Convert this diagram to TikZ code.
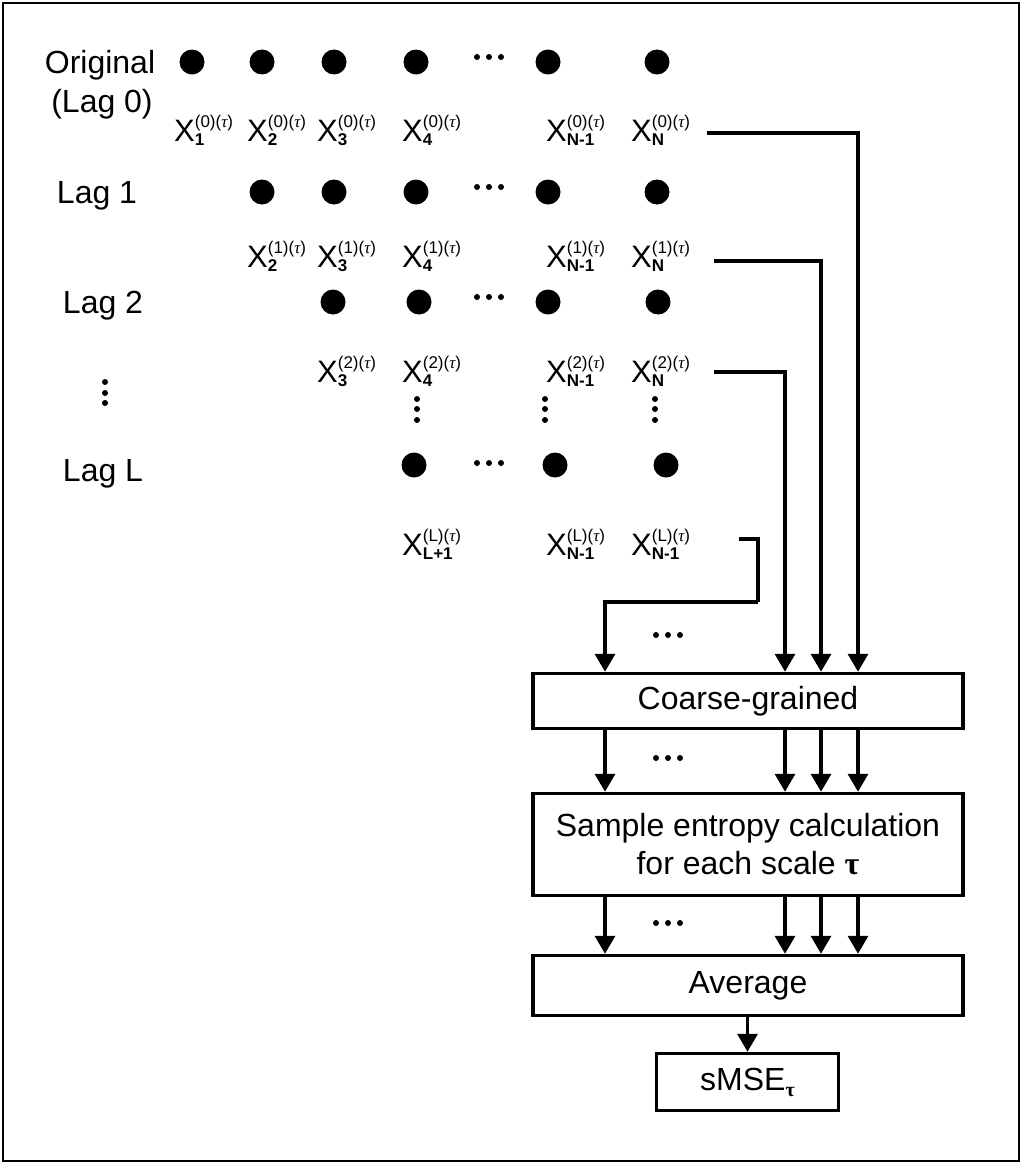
\documentclass[tikz,border=0pt]{standalone}
\usepackage{fontspec}
\setmainfont{Liberation Sans}
\newfontfamily\serifg{Liberation Serif}
\usetikzlibrary{arrows.meta}
\newcommand\xlab[2]{X\rlap{\raisebox{-4pt}{\fontsize{17}{17}\selectfont\bfseries #2}}\raisebox{14pt}{\fontsize{17}{17}\selectfont(#1)({\serifg\itshape τ})}}
\tikzset{
  dotnode/.style={circle, fill=black, minimum size=25pt, inner sep=0pt},
  lab/.style={anchor=base west, inner sep=0pt, font=\fontsize{31}{36}\selectfont},
  lag/.style={anchor=base, inner sep=0pt},
  box/.style={draw, line width=3.5pt, inner sep=0pt, minimum width=430pt, align=center},
  arr/.style={line width=3.5pt, -{Triangle[width=20pt,length=18pt]}},
  conn/.style={line width=3.5pt},
}
\begin{document}
\begin{tikzpicture}[x=1pt,y=-1pt,font=\fontsize{32}{40}\selectfont]
\useasboundingbox (0,0) rectangle (1024,1164);
\draw[line width=2pt] (3,3) rectangle (1019,1161);

% left labels
\node[lag] (orig) at (100,74) {Original};
\node[lag] (lag0) at (102,112) {(Lag 0)};
\node[lag] (lag1) at (97,203) {Lag 1};
\node[lag] (lag2) at (103,313) {Lag 2};
\node[lag] (lagL) at (103,481) {Lag L};
\foreach \y in {382,393,403} \fill (105,\y) circle (3pt);

% rows of dots
\foreach \x [count=\i] in {192,262,334,416,548,657} \node[dotnode] (r0d\i) at (\x,62) {};
\foreach \x [count=\i] in {262,334,416,548,657} \node[dotnode] (r1d\i) at (\x,192) {};
\foreach \x [count=\i] in {333,419,548,658} \node[dotnode] (r2d\i) at (\x,302) {};
\foreach \x [count=\i] in {414,555,666} \node[dotnode] (rLd\i) at (\x,465) {};
% horizontal ellipses
\foreach \yy in {57,187,297,463} {\foreach \dx in {-12,0,12} \fill (489+\dx,\yy) circle (3pt);}
% vertical ellipses
\foreach \xx in {417,545,655} {\foreach \yy in {399,409,420} \fill (\xx,\yy) circle (3pt);}

% labels row 0
\node[lab] (x01) at (174,141) {\xlab{0}{1}};
\node[lab] (x02) at (247,141) {\xlab{0}{2}};
\node[lab] (x03) at (317,141) {\xlab{0}{3}};
\node[lab] (x04) at (402,141) {\xlab{0}{4}};
\node[lab] (x05) at (546,141) {\xlab{0}{N-1}};
\node[lab] (x06) at (631,141) {\xlab{0}{N}};
% row 1
\node[lab] (x12) at (247,267) {\xlab{1}{2}};
\node[lab] (x13) at (317,267) {\xlab{1}{3}};
\node[lab] (x14) at (402,267) {\xlab{1}{4}};
\node[lab] (x15) at (546,267) {\xlab{1}{N-1}};
\node[lab] (x16) at (631,267) {\xlab{1}{N}};
% row 2
\node[lab] (x23) at (317,382) {\xlab{2}{3}};
\node[lab] (x24) at (402,382) {\xlab{2}{4}};
\node[lab] (x25) at (546,382) {\xlab{2}{N-1}};
\node[lab] (x26) at (631,382) {\xlab{2}{N}};
% row L
\node[lab] (xL4) at (402,555) {\xlab{L}{L+1}};
\node[lab] (xL5) at (546,555) {\xlab{L}{N-1}};
\node[lab] (xL6) at (631,555) {\xlab{L}{N-1}};

% boxes
\node[box, minimum height=55pt] (cg) at (748,701) {Coarse-grained};
\node[box, minimum height=102pt] (se) at (748,844.5) {Sample entropy calculation\\[-2pt]for each scale {\serifg\bfseries τ}};
\node[box, minimum height=60pt] (av) at (748,985.5) {Average};
\node[box, minimum width=182pt, minimum height=57pt] (sm) at (747.5,1082) {sMSE\raisebox{-6pt}{\fontsize{20}{20}\selectfont\serifg\bfseries τ}};

% column coordinates
\coordinate (k0) at (858,0);
\coordinate (k1) at (821,0);
\coordinate (k2) at (785,0);
\coordinate (k3) at (605,0);
\coordinate (s0) at (707,133);
\coordinate (s1) at (714,261);
\coordinate (s2) at (714,372);
\coordinate (sL) at (739,539);
\coordinate (bend) at (758,602);

\draw[arr] (s0) -| (k0 |- cg.north);
\draw[arr] (s1) -| (k1 |- cg.north);
\draw[arr] (s2) -| (k2 |- cg.north);
\draw[conn] (sL) -| (bend);
\draw[arr] (bend) -| (k3 |- cg.north);

\foreach \k in {k0,k1,k2,k3} {
  \draw[arr] (cg.south -| \k) -- (se.north -| \k);
  \draw[arr] (se.south -| \k) -- (av.north -| \k);
}
\draw[arr] (av.south -| sm.north) -- (sm.north);

\foreach \yy in {635,758,923} {\foreach \dx in {-12,0,12} \fill (668+\dx,\yy) circle (3pt);}
\end{tikzpicture}
\end{document}
